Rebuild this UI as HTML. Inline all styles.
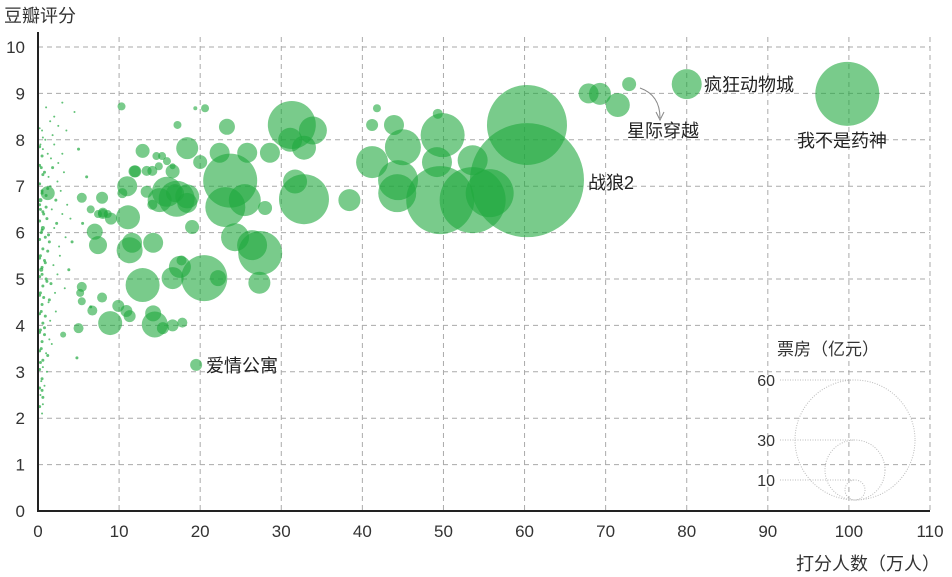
<!DOCTYPE html>
<html><head><meta charset="utf-8">
<style>
html,body{margin:0;padding:0;background:#fff;}
svg{display:block;font-family:"Liberation Sans","Noto Sans CJK SC",sans-serif;}
</style></head>
<body>
<svg id="chart" width="952" height="577" viewBox="0 0 952 577">
<g id="grid"></g>
<g id="dots"></g>
<g id="bubbles"></g>
<g id="axes"></g>
<g id="labels"></g>
<g id="legend"></g>
</svg>
<script>
// data (x: 打分人数 万人, y: 豆瓣评分, b: 票房 亿元)
const xTicks=[0,10,20,30,40,50,60,70,80,90,100,110];
const yTicks=[0,1,2,3,4,5,6,7,8,9,10];
const bubX=[99.8,80,72.9,71.5,69.3,67.9,60.3,60.3,55.7,53.6,49.6,49.9,44.3,44.4,45,41.2,53.6,49.2,43.9,38.4,41.2,49.3,31.3,33.9,32.8,31.7,32.8,23.7,23.1,25.5,27.4,26.4,24.3,27.3,20.5,22.2,23.3,18.4,20,22.4,25.8,28.6,31.1,18.4,19,17.5,28,20.6,41.8,19.5,1.2,11,11.1,11.3,12.9,11.6,8.9,14.2,7.4,7.0,7.9,5.4,8.0,13.4,9.0,15.9,18.4,17.1,15,16.9,14.4,16.6,17.7,14.2,15.4,16.6,17.8,10.9,9.9,11.3,7.9,6.7,5.2,5.0,3.1,5.4,5.4,7.4,8.0,8.6,10.4,11.9,12.0,13.4,14.1,16.6,15.9,16.6,14.9,14.6,15.3,19.4,17.2,12.9,10.3,6.5,14.1];
const bubY=[8.99,9.2,9.2,8.75,8.99,9.0,7.13,8.32,6.85,6.7,6.7,8.1,6.85,7.13,7.84,7.52,7.56,7.52,8.32,6.7,8.32,8.56,8.32,8.2,7.83,7.1,6.72,7.12,6.55,6.7,5.56,5.73,5.9,4.92,5.02,5.02,8.28,7.82,7.52,7.72,7.72,7.72,8.0,6.64,6.12,5.26,6.53,8.68,8.68,3.15,6.85,7.0,6.33,5.62,4.87,5.78,4.05,5.78,5.73,6.02,6.75,6.75,6.4,6.88,6.3,6.88,6.78,6.73,6.7,6.85,4.02,5.02,5.4,4.26,3.94,4.0,4.06,4.31,4.42,4.2,4.6,4.32,4.7,3.94,3.8,4.83,4.52,6.4,6.43,6.4,6.85,7.32,7.32,7.33,7.33,7.32,7.54,7.43,7.43,7.65,7.65,8.68,8.32,7.76,8.72,6.5,6.6];
const bubB=[32,15,7,12,11,10,57,40,24,33,34,22,19,20,18,16,15,15,10,11,6,5,24,14,12,12,25,27,20,16,22,15,14,11,23,8,8,11,7,10,10,10,12,10,7,11,7,4,4,6,7,10,12,13,17,10,12,10,9,8,6,5,5,6,6,15,12,18,12,9,13,11,5,8,6,6,5,6,6,6,5,5,4,5,3,5,4,4,5,4,5,6,6,5,5,7,4,3,4,4,4,2,4,7,4,4,5];
const dotX=[0.3,0.6,0.9,1.2,1.6,2.0,2.5,3.0,0.4,0.8,1.3,1.8,2.4,3.2,0.5,1.0,1.5,2.2,2.8,3.6,0.3,0.7,1.1,1.7,2.3,3.0,4.0,0.4,0.9,1.4,2.0,2.6,3.4,0.3,0.8,1.2,1.9,2.7,0.5,1.0,1.6,2.4,3.3,0.3,0.7,1.3,2.1,0.4,0.9,1.5,2.2,0.3,0.8,1.4,0.4,1.0,1.7,0.3,0.6,1.1,0.4,0.8,0.3,0.6,0.5,1.5,2.5,3.5,4.5,1.0,2.0,3.0,0.5,1.8,0.3,0.6,0.4,5.0,6.0,5.5,4.2,3.8,6.5,4.8,
0.2,0.5,0.2,0.6,0.2,0.5,0.2,0.6,0.2,0.5,0.2,0.6,0.2,0.5,0.2,0.6,0.2,0.5,0.2,0.6,0.2,0.5,0.2,0.6,0.2,0.5,0.2,0.6,0.2,0.5,0.2,0.6,1.2,1.0,1.3,0.9,1.1,1.4,0.8,1.2];
const dotY=[7.9,7.8,8.0,7.7,7.6,7.9,7.5,7.7,7.4,7.3,7.2,7.4,7.1,7.3,6.9,6.8,7.0,6.7,6.9,6.6,6.5,6.4,6.3,6.5,6.2,6.4,6.3,6.0,5.9,5.8,6.1,5.7,5.9,5.5,5.4,5.6,5.3,5.5,5.1,5.0,4.9,5.1,4.8,4.7,4.6,4.5,4.7,4.3,4.2,4.1,4.3,3.9,3.8,3.7,3.5,3.4,3.6,3.2,3.1,3.0,2.8,2.7,2.5,2.3,2.1,8.4,8.3,8.2,8.6,8.7,8.5,8.8,8.2,8.1,6.7,6.1,5.2,7.8,7.2,6.2,5.8,5.2,4.4,3.3,
7.85,7.65,7.45,7.25,7.05,6.85,6.6,6.45,6.25,6.05,5.85,5.65,5.45,5.25,5.05,4.85,4.65,4.45,4.25,4.05,3.85,3.65,3.45,3.25,3.05,2.85,2.65,2.45,2.25,2.6,8.25,8.05,6.95,6.55,5.95,5.35,4.95,4.55,3.95,3.35];
const dotR=[1,1,1,1,1,1,1,1,1.5,1.5,1,1.5,1,1,1.5,1.5,1,1.5,1,1,1.5,1.5,1.5,1,1.5,1,1,1.5,1.5,1.5,1,1,1,1.5,1.5,1.5,1,1,1.5,1.5,1.5,1,1,1.5,1.5,1,1,1.5,1.5,1,1,1.5,1.5,1,1.5,1,1,1.5,1,1,1,1,1,1,1,1,1,1,1,1,1,1,1,1,2,2,2,1.5,1.5,1.5,1.5,1.5,1.5,1.5,
1.5,1.5,1.5,1.5,1.5,1.5,1.5,1.5,1.5,1.5,1.5,1.5,1.5,1.5,1.5,1.5,1.5,1.5,1.5,1.5,1.5,1.5,1.5,1.5,1.5,1.5,1.5,1.5,1.5,1.5,1,1,1.5,1.5,1.5,1.5,1.5,1.5,1.5,1.5];
const legVals=[60,30,10];

const NS='http://www.w3.org/2000/svg';
const X0=38,X1=930,Y0=511,Y1=47;
const sx=v=>X0+(v-0)/(110)*(X1-X0);
const sy=v=>Y0-(v-0)/(10)*(Y0-Y1);
const rs=b=>b; // radius px per 亿元
function mk(tag,attrs,parent){const e=document.createElementNS(NS,tag);for(const k in attrs)e.setAttribute(k,attrs[k]);parent.appendChild(e);return e;}
const grid=document.getElementById('grid');
xTicks.forEach((t,i)=>{ if(t===0) return;
  const l=mk('line',{x1:sx(t),x2:sx(t),y1:Y1-10,y2:Y0,stroke:'#aaa','stroke-dasharray':'5,4','stroke-width':1},grid);
  
  
});
yTicks.forEach(t=>{ if(t===0) return;
  const l=mk('line',{x1:X0,x2:X1,y1:sy(t),y2:sy(t),stroke:'#aaa','stroke-dasharray':'5,4','stroke-width':1},grid);
  
  
});
const dots=document.getElementById('dots');
dotX.forEach((x,i)=>{
  const c=mk('circle',{cx:sx(x),cy:sy(dotY[i]),r:dotR[i],fill:'#1fa83e','fill-opacity':0.7},dots);
  
  
});
const bub=document.getElementById('bubbles');
bubX.forEach((x,i)=>{
  const c=mk('circle',{cx:sx(x),cy:sy(bubY[i]),r:rs(bubB[i]),fill:'#1fa83e','fill-opacity':0.6},bub);
  
  
});
const axes=document.getElementById('axes');
mk('line',{x1:X0,x2:X0,y1:32,y2:Y0+1,stroke:'#222','stroke-width':2},axes);
mk('line',{x1:X0-1,x2:X1,y1:Y0,y2:Y0,stroke:'#222','stroke-width':2},axes);
xTicks.forEach(t=>{
  const e=mk('text',{x:sx(t),y:537,'text-anchor':'middle','font-size':17,fill:'#333'},axes);
  e.textContent=t;
  
  
});
yTicks.forEach(t=>{
  const e=mk('text',{x:25,y:sy(t)+6,'text-anchor':'end','font-size':17,fill:'#333'},axes);
  e.textContent=t;
  
  
});
</script>
<script>
(function(){
const NS='http://www.w3.org/2000/svg';
function mk(tag,attrs,parent){const e=document.createElementNS(NS,tag);for(const k in attrs)e.setAttribute(k,attrs[k]);parent.appendChild(e);return e;}
const axes=document.getElementById('axes');
let t=mk('text',{x:4,y:22,'font-size':18,fill:'#333'},axes);t.textContent='豆瓣评分';


t=mk('text',{x:940,y:570,'text-anchor':'end','font-size':18,fill:'#333'},axes);t.textContent='打分人数（万人）';


const lab=document.getElementById('labels');
const L=[['我不是药神',797,147],['疯狂动物城',704,91],['星际穿越',627,137],['战狼2',588,189],['爱情公寓',206,372]];
L.forEach(a=>{const e=mk('text',{x:a[1],y:a[2],'font-size':18,fill:'#222'},lab);e.textContent=a[0];

});
mk('path',{d:'M640 88 Q660 95 660 118',fill:'none',stroke:'#888','stroke-width':1},lab);
mk('path',{d:'M656 112 L660 120 L664 112',fill:'none',stroke:'#888','stroke-width':1},lab);
const lg=document.getElementById('legend');
const cx=855,bot=500;
t=mk('text',{x:828,y:355,'text-anchor':'middle','font-size':17,fill:'#333'},lg);t.textContent='票房（亿元）';


legVals.forEach(v=>{
  const r=rs(v);
  mk('circle',{cx:cx,cy:bot-r,r:r,fill:'none',stroke:'#bbb','stroke-dasharray':'1,1.5'},lg);
  mk('line',{x1:780,x2:cx,y1:bot-2*r,y2:bot-2*r,stroke:'#bbb','stroke-dasharray':'1,1.5'},lg);
  const e=mk('text',{x:775,y:bot-2*r+6,'text-anchor':'end','font-size':16,fill:'#333'},lg);e.textContent=v;
  
  
});
})();
</script>
</body></html>
